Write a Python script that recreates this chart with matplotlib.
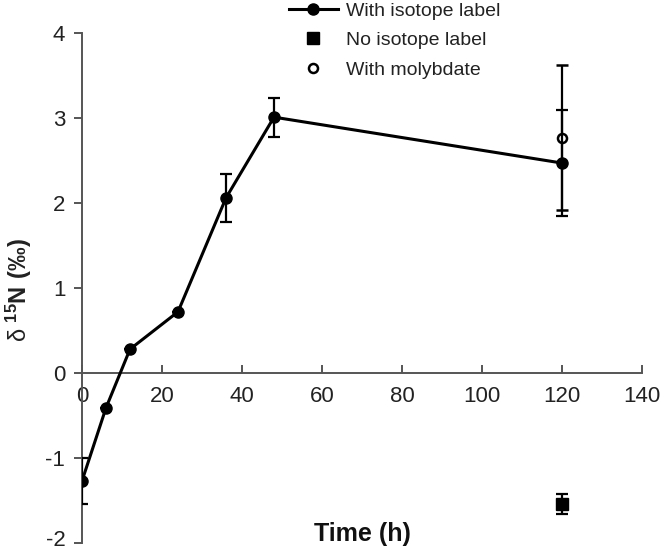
import numpy as np
import matplotlib
matplotlib.use('Agg')
import matplotlib.pyplot as plt
import matplotlib.transforms as mtransforms
from matplotlib.lines import Line2D

plt.rcParams['font.family'] = ['Liberation Sans', 'DejaVu Sans']
plt.rcParams['mathtext.fontset'] = 'custom'
plt.rcParams['mathtext.rm'] = 'Liberation Sans'
plt.rcParams['mathtext.bf'] = 'Liberation Sans:bold'
plt.rcParams['axes.unicode_minus'] = False

# ---- data ----
time_label = [0, 6, 12, 24, 36, 48, 120]
d15n_label = [-1.27, -0.41, 0.28, 0.72, 2.06, 3.01, 2.47]
err_label = [0.27, 0.0, 0.0, 0.0, 0.28, 0.23, 0.62]

time_nolabel = [120]
d15n_nolabel = [-1.54]
err_nolabel = [0.12]

time_moly = [120]
d15n_moly = [2.77]
err_moly = [0.85]

xticks = [0, 20, 40, 60, 80, 100, 120, 140]
yticks = [-2, -1, 0, 1, 2, 3, 4]

fig = plt.figure(figsize=(6.64, 5.52), dpi=100)
ax = fig.add_axes([82/664, 1-543/552, 560/664, 510/552])

ax.errorbar(time_moly, d15n_moly, yerr=err_moly, fmt='o', color='black',
            mfc='white', mec='black', mew=1.8, ms=6.5, elinewidth=1.6,
            capsize=4, capthick=1.6, zorder=3)
ax.errorbar(time_label, d15n_label, yerr=err_label, fmt='-o', color='black',
            lw=2.2, ms=8, elinewidth=1.6, capsize=4, capthick=1.6, zorder=4)
ax.errorbar(time_nolabel, d15n_nolabel, yerr=err_nolabel, fmt='s', color='black',
            ms=8, elinewidth=1.6, capsize=4, capthick=1.6, zorder=4)

ax.set_xlim(0, 140)
ax.set_ylim(-2, 4)
ax.set_xticks(xticks)
ax.set_yticks(yticks)

ax.spines['top'].set_visible(False)
ax.spines['right'].set_visible(False)
ax.spines['bottom'].set_position(('data', 0))
for s in ['left', 'bottom']:
    ax.spines[s].set_color('#555555')
    ax.spines[s].set_linewidth(1.4)

ax.tick_params(axis='x', direction='in', length=6, width=1.4, color='#555555',
               labelsize=16, labelcolor='#222222', pad=9)
ax.tick_params(axis='y', direction='out', length=6, width=1.4, color='#555555',
               labelsize=16, labelcolor='#222222', pad=6)

# bottom y label sits on the figure edge; lift it a touch so it stays whole
fig.canvas.draw()
lowest = ax.get_yticklabels()[0]
lowest.set_transform(lowest.get_transform() +
                     mtransforms.ScaledTranslation(0, 5/100, fig.dpi_scale_trans))

fig.text(362/664, 1-534/552, 'Time (h)', fontsize=18, fontweight='bold',
         ha='center', va='center', color='#111111')
ax.set_ylabel(r'δ $\mathbf{^{15}N\ (‰)}$', fontsize=17, color='#222222')
ax.yaxis.set_label_coords(34/664, 1-290/552, transform=fig.transFigure)

# legend without the error bar glyphs
handles = [Line2D([], [], color='black', lw=2.2, marker='o', ms=8),
           Line2D([], [], color='black', ls='none', marker='s', ms=8),
           Line2D([], [], color='black', ls='none', marker='o', ms=6.5,
                  mfc='white', mew=1.8)]
labels = ['With isotope label', 'No isotope label', 'With molybdate']
leg = fig.legend(handles, labels, loc='upper left',
                 bbox_to_anchor=(287/664, 1.0),
                 frameon=False, fontsize=14, handlelength=2.5,
                 handletextpad=0.45, labelspacing=0.62, borderpad=0.1,
                 borderaxespad=0)
for t in leg.get_texts():
    t.set_color('#222222')

fig.savefig('out.png', dpi=100)
